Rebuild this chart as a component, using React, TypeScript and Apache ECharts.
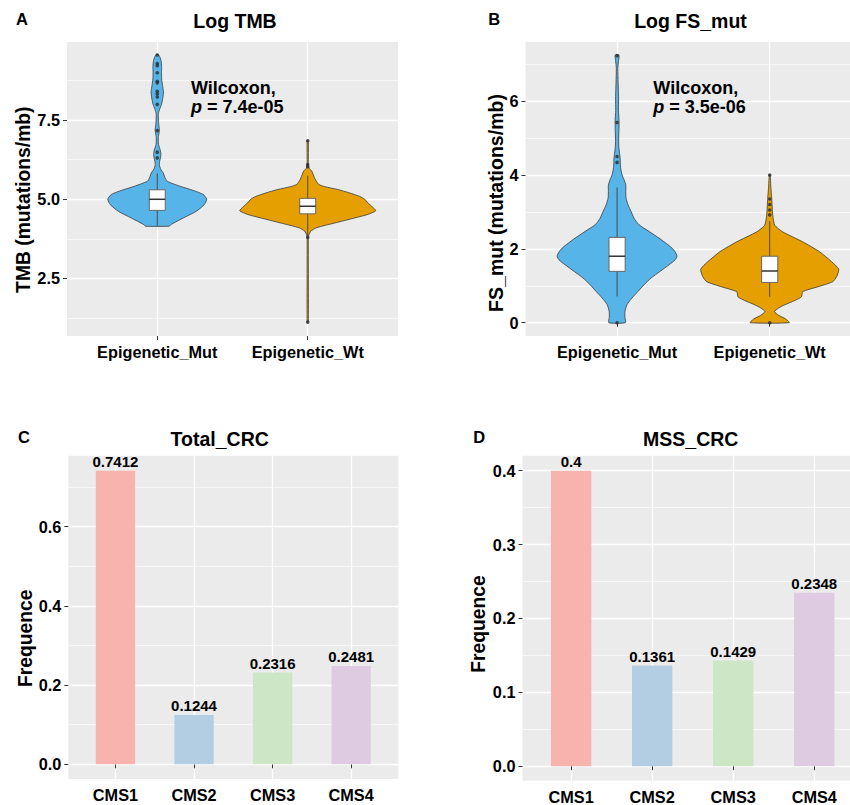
import React, { useEffect, useRef } from "react";
import * as echarts from "echarts";

const FONT = '"Liberation Sans", Arial, Helvetica, sans-serif';

// ---------- Panels A / B : violins ----------
const violinGroups = ["Epigenetic_Mut", "Epigenetic_Wt"];
const violinColors = ["#56B4E9", "#E69F00"];

// [value, half width of the violin in x-axis units]
const tmbMutProfile: number[][] = [
  [4.15, 0.08], [4.2, 0.09], [4.41, 0.173], [4.62, 0.259], [4.83, 0.312], [5.0, 0.329],
  [5.15, 0.306], [5.28, 0.239], [5.41, 0.153], [5.57, 0.066], [5.7, 0.05], [5.83, 0.04],
  [5.95, 0.023], [6.08, 0.014], [6.2, 0.016], [6.32, 0.022], [6.42, 0.024], [6.55, 0.02],
  [6.74, 0.008], [6.95, 0.007], [7.1, 0.012], [7.2, 0.014], [7.35, 0.01], [7.5, 0.008],
  [7.7, 0.007], [7.85, 0.016], [8.0, 0.028], [8.2, 0.037], [8.4, 0.041], [8.6, 0.035],
  [8.8, 0.029], [9.0, 0.028], [9.2, 0.029], [9.38, 0.025], [9.5, 0.017], [9.58, 0.005],
];
const tmbWtProfile: number[][] = [
  [1.12, 0.004], [3.8, 0.004], [3.88, 0.008], [3.99, 0.02], [4.1, 0.058], [4.25, 0.179],
  [4.41, 0.312], [4.52, 0.399], [4.64, 0.452], [4.75, 0.432], [4.89, 0.399], [5.0, 0.379],
  [5.09, 0.346], [5.2, 0.279], [5.31, 0.199], [5.4, 0.113], [5.47, 0.073], [5.58, 0.056],
  [5.68, 0.045], [5.89, 0.027], [5.99, 0.008], [6.1, 0.004], [6.85, 0.004],
];
const fsMutProfile: number[][] = [
  [0.0, 0.054], [0.15, 0.051], [0.31, 0.052], [0.49, 0.065], [0.67, 0.098], [0.85, 0.138],
  [1.03, 0.177], [1.21, 0.223], [1.39, 0.282], [1.57, 0.341], [1.7, 0.38], [1.8, 0.393],
  [1.92, 0.38], [2.02, 0.36], [2.15, 0.321], [2.29, 0.275], [2.47, 0.21], [2.65, 0.144],
  [2.83, 0.111], [3.01, 0.092], [3.19, 0.072], [3.37, 0.059], [3.55, 0.057], [3.73, 0.057],
  [3.87, 0.046], [4.0, 0.033], [4.2, 0.023], [4.46, 0.02], [4.7, 0.013], [4.91, 0.01],
  [5.2, 0.012], [5.45, 0.013], [5.75, 0.009], [6.08, 0.01], [6.5, 0.007], [6.89, 0.005],
  [7.1, 0.01], [7.2, 0.013], [7.25, 0.012],
];
const fsWtProfile: number[][] = [
  [0.0, 0.128], [0.1, 0.105], [0.2, 0.059], [0.3, 0.031], [0.4, 0.059], [0.48, 0.096],
  [0.6, 0.164], [0.7, 0.208], [0.84, 0.216], [0.97, 0.314], [1.11, 0.413], [1.25, 0.439],
  [1.45, 0.452], [1.65, 0.406], [1.92, 0.327], [2.19, 0.216], [2.46, 0.085], [2.64, 0.033],
  [2.91, 0.02], [3.37, 0.013], [3.7, 0.007], [4.0, 0.003],
];

// [lower whisker, Q1, median, Q3, upper whisker]
const tmbBoxStats: number[][] = [
  [4.15, 4.65, 5.0, 5.3, 5.82],
  [3.83, 4.54, 4.78, 5.03, 5.75],
];
const fsBoxStats: number[][] = [
  [0.71, 1.39, 1.8, 2.31, 3.66],
  [0.7, 1.09, 1.4, 1.8, 2.75],
];
const tmbMutOutliers = [6.31, 6.49, 7.17, 8.0, 8.23, 8.33, 8.41, 8.68, 8.73, 9.0, 9.22, 9.29, 9.56];
const tmbWtOutliers = [1.12, 3.8, 6.03, 6.1, 6.85];
const fsMutOutliers = [0.0, 4.34, 4.5, 5.42, 7.23];
const fsWtOutliers = [0.0, 2.92, 3.05, 3.2, 3.35, 4.0];

const tmbTicks = [2.5, 5, 7.5];
const tmbMinorTicks = [1.25, 3.75, 6.25, 8.75];
const fsTicks = [0, 2, 4, 6];
const fsMinorTicks = [1, 3, 5, 7];

// ---------- Panels C / D : bars ----------
const cmsCategories = ["CMS1", "CMS2", "CMS3", "CMS4"];
const cmsColors = ["#F8B3AF", "#B3CDE3", "#CDE6C5", "#DECBE2"];
const totalCrcFreq = [0.7412, 0.1244, 0.2316, 0.2481];
const mssCrcFreq = [0.4, 0.1361, 0.1429, 0.2348];

const totalTicks = [0, 0.2, 0.4, 0.6];
const totalMinorTicks = [0.1, 0.3, 0.5, 0.7];
const mssTicks = [0, 0.1, 0.2, 0.3, 0.4];
const mssMinorTicks = [0.05, 0.15, 0.25, 0.35];

const grids = [
  { left: 67, top: 42, width: 331, height: 294 },
  { left: 525.5, top: 42, width: 324.5, height: 294 },
  { left: 68.3, top: 455.7, width: 330, height: 323.3 },
  { left: 522.5, top: 455.7, width: 327.5, height: 325 },
];

const TEXT_COLOR = "#000";
const axisTextStyle = { fontFamily: FONT, fontWeight: "bold" as const, fontSize: 16.3, color: TEXT_COLOR };

function makeX(gridIndex: number, min: number, max: number, labels: string[]) {
  const vals = labels.map((_, i) => i + 1);
  return {
    type: "value",
    gridIndex,
    min,
    max,
    axisLine: { show: false },
    axisTick: { show: true, customValues: vals, length: 4, lineStyle: { color: "#333", width: 1 } },
    axisLabel: {
      customValues: vals,
      formatter: (v: number) => labels[Math.round(v) - 1] ?? "",
      margin: 8,
      ...axisTextStyle,
    },
    splitLine: { show: true, lineStyle: { color: "#ffffff", width: 1.3 } },
  };
}

function makeY(gridIndex: number, min: number, max: number, ticks: number[], fmt: (v: number) => string) {
  return {
    type: "value",
    gridIndex,
    position: "left",
    min,
    max,
    axisLine: { show: false },
    axisTick: { show: true, customValues: ticks, length: 4, lineStyle: { color: "#333", width: 1 } },
    axisLabel: { customValues: ticks, formatter: fmt, margin: 7, ...axisTextStyle },
    splitLine: { show: true, lineStyle: { color: "#ffffff", width: 1.3 } },
  };
}

function makeMinorY(gridIndex: number, min: number, max: number, ticks: number[]) {
  return {
    type: "value",
    gridIndex,
    position: "left",
    min,
    max,
    axisLine: { show: false },
    axisTick: { show: false, customValues: ticks },
    axisLabel: { show: false },
    splitLine: { show: true, lineStyle: { color: "#ffffff", width: 0.6 } },
  };
}

function violinSeries(xi: number, yi: number, profiles: number[][][]) {
  return {
    type: "custom",
    xAxisIndex: xi,
    yAxisIndex: yi,
    silent: true,
    z: 2,
    data: profiles.map((p, i) => [i + 1, p[0][0]]),
    encode: { x: 0, y: 1 },
    renderItem: (params: any, api: any) => {
      const idx = params.dataIndex;
      const prof = profiles[idx];
      const cx = idx + 1;
      const right = prof.map(([v, w]) => api.coord([cx + w, v]));
      const left = prof
        .slice()
        .reverse()
        .map(([v, w]) => api.coord([cx - w, v]));
      return {
        type: "polygon",
        shape: { points: right.concat(left), smooth: 0.2 },
        style: { fill: violinColors[idx], stroke: "#3a3a3a", lineWidth: 0.8 },
      };
    },
  };
}

function boxSeries(xi: number, yi: number, stats: number[][]) {
  return {
    type: "custom",
    xAxisIndex: xi,
    yAxisIndex: yi,
    silent: true,
    z: 3,
    data: stats.map((s, i) => [i + 1, s[2]]),
    encode: { x: 0, y: 1 },
    renderItem: (params: any, api: any) => {
      const idx = params.dataIndex;
      const [lo, q1, med, q3, hi] = stats[idx];
      const cx = idx + 1;
      const hw = 0.053;
      const pLo = api.coord([cx, lo]);
      const pHi = api.coord([cx, hi]);
      const tl = api.coord([cx - hw, q3]);
      const br = api.coord([cx + hw, q1]);
      const pm = api.coord([cx, med]);
      const wStyle = { stroke: "#4a4a4a", lineWidth: 1 };
      return {
        type: "group",
        children: [
          { type: "line", shape: { x1: pLo[0], y1: pLo[1], x2: pLo[0], y2: br[1] }, style: wStyle },
          { type: "line", shape: { x1: pHi[0], y1: tl[1], x2: pHi[0], y2: pHi[1] }, style: wStyle },
          {
            type: "rect",
            shape: { x: tl[0], y: tl[1], width: br[0] - tl[0], height: br[1] - tl[1] },
            style: { fill: "#ffffff", stroke: "#666666", lineWidth: 1 },
          },
          {
            type: "line",
            shape: { x1: tl[0], y1: pm[1], x2: br[0], y2: pm[1] },
            style: { stroke: "#333333", lineWidth: 1.5 },
          },
        ],
      };
    },
  };
}

function outlierSeries(xi: number, yi: number, groups: number[][]) {
  const data: number[][] = [];
  groups.forEach((vals, i) => vals.forEach((v) => data.push([i + 1, v])));
  return {
    type: "scatter",
    xAxisIndex: xi,
    yAxisIndex: yi,
    silent: true,
    z: 4,
    symbolSize: 3.6,
    itemStyle: { color: "#2a2a2a" },
    data,
  };
}

function barSeries(xi: number, yi: number, values: number[], barWidth: number) {
  return {
    type: "bar",
    xAxisIndex: xi,
    yAxisIndex: yi,
    barWidth,
    silent: true,
    data: values.map((v, i) => ({ value: [i + 1, v], itemStyle: { color: cmsColors[i] } })),
    label: {
      show: true,
      position: "top",
      distance: 2,
      formatter: (p: any) => String(p.data.value[1]),
      fontFamily: FONT,
      fontWeight: "bold",
      fontSize: 15,
      color: TEXT_COLOR,
    },
  };
}

function txt(text: string, x: number, y: number, size: number, align: string, rotation = 0, extra: any = {}) {
  return {
    type: "text",
    x,
    y,
    z: 100,
    rotation,
    silent: true,
    style: {
      text,
      x: 0,
      y: 0,
      align,
      textAlign: align,
      verticalAlign: "middle",
      textVerticalAlign: "middle",
      fontFamily: FONT,
      fontWeight: "bold",
      fontSize: size,
      fill: TEXT_COLOR,
      ...extra,
    },
  };
}

const pRich = {
  rich: {
    i: { fontFamily: FONT, fontWeight: "bold", fontStyle: "italic", fontSize: 18, fill: TEXT_COLOR },
  },
};

export default function App() {
  const ref = useRef<HTMLDivElement>(null);
  useEffect(() => {
    if (!ref.current) return;
    const chart = echarts.init(ref.current, undefined, { renderer: "svg" });
    const option: any = {
      animation: false,
      backgroundColor: "#ffffff",
      grid: grids.map((g) => ({
        ...g,
        show: true,
        backgroundColor: "#EBEBEB",
        borderWidth: 0,
        containLabel: false,
        outerBoundsMode: "none",
      })),
      xAxis: [
        makeX(0, 0.4, 2.6, violinGroups),
        makeX(1, 0.4, 2.526, violinGroups),
        makeX(2, 0.4, 4.6, cmsCategories),
        makeX(3, 0.4, 4.441, cmsCategories),
      ],
      yAxis: [
        makeY(0, 0.68, 9.97, tmbTicks, (v) => v.toFixed(1)),
        makeMinorY(0, 0.68, 9.97, tmbMinorTicks),
        makeY(1, -0.36, 7.6, fsTicks, (v) => String(v)),
        makeMinorY(1, -0.36, 7.6, fsMinorTicks),
        makeY(2, -0.037, 0.779, totalTicks, (v) => v.toFixed(1)),
        makeMinorY(2, -0.037, 0.779, totalMinorTicks),
        makeY(3, -0.0197, 0.4203, mssTicks, (v) => v.toFixed(1)),
        makeMinorY(3, -0.0197, 0.4203, mssMinorTicks),
      ],
      series: [
        violinSeries(0, 0, [tmbMutProfile, tmbWtProfile]),
        boxSeries(0, 0, tmbBoxStats),
        outlierSeries(0, 0, [tmbMutOutliers, tmbWtOutliers]),
        violinSeries(1, 2, [fsMutProfile, fsWtProfile]),
        boxSeries(1, 2, fsBoxStats),
        outlierSeries(1, 2, [fsMutOutliers, fsWtOutliers]),
        barSeries(2, 4, totalCrcFreq, 39.3),
        barSeries(3, 6, mssCrcFreq, 40.4),
      ],
      graphic: {
        elements: [
          txt("A", 16, 18.5, 16.5, "left"),
          txt("B", 488.3, 18.5, 16.5, "left"),
          txt("C", 18, 437, 16.5, "left"),
          txt("D", 473.3, 437, 16.5, "left"),
          txt("Log TMB", 235, 20.7, 19.5, "center"),
          txt("Log FS_mut", 690.5, 20.7, 19.5, "center"),
          txt("Total_CRC", 219.7, 439.3, 19.5, "center"),
          txt("MSS_CRC", 690.7, 438.5, 19.5, "center"),
          txt("TMB (mutations/mb)", 23.3, 199.7, 19.3, "center", Math.PI / 2),
          txt("FS_mut (mutations/mb)", 495.7, 203, 19.5, "center", Math.PI / 2),
          txt("Frequence", 25, 638.3, 19.3, "center", Math.PI / 2),
          txt("Frequence", 478.3, 624, 19.3, "center", Math.PI / 2),
          txt("Wilcoxon,", 191, 88.3, 18, "left"),
          txt("{i|p} = 7.4e-05", 191, 106.7, 18, "left", 0, pRich),
          txt("Wilcoxon,", 653.3, 88.3, 18, "left"),
          txt("{i|p} = 3.5e-06", 653.3, 106.7, 18, "left", 0, pRich),
        ],
      },
    };
    chart.setOption(option);
    return () => chart.dispose();
  }, []);
  return (
    <div
      ref={ref}
      style={{ position: "absolute", left: 0, top: 0, width: 850, height: 805, background: "#fff" }}
    />
  );
}
